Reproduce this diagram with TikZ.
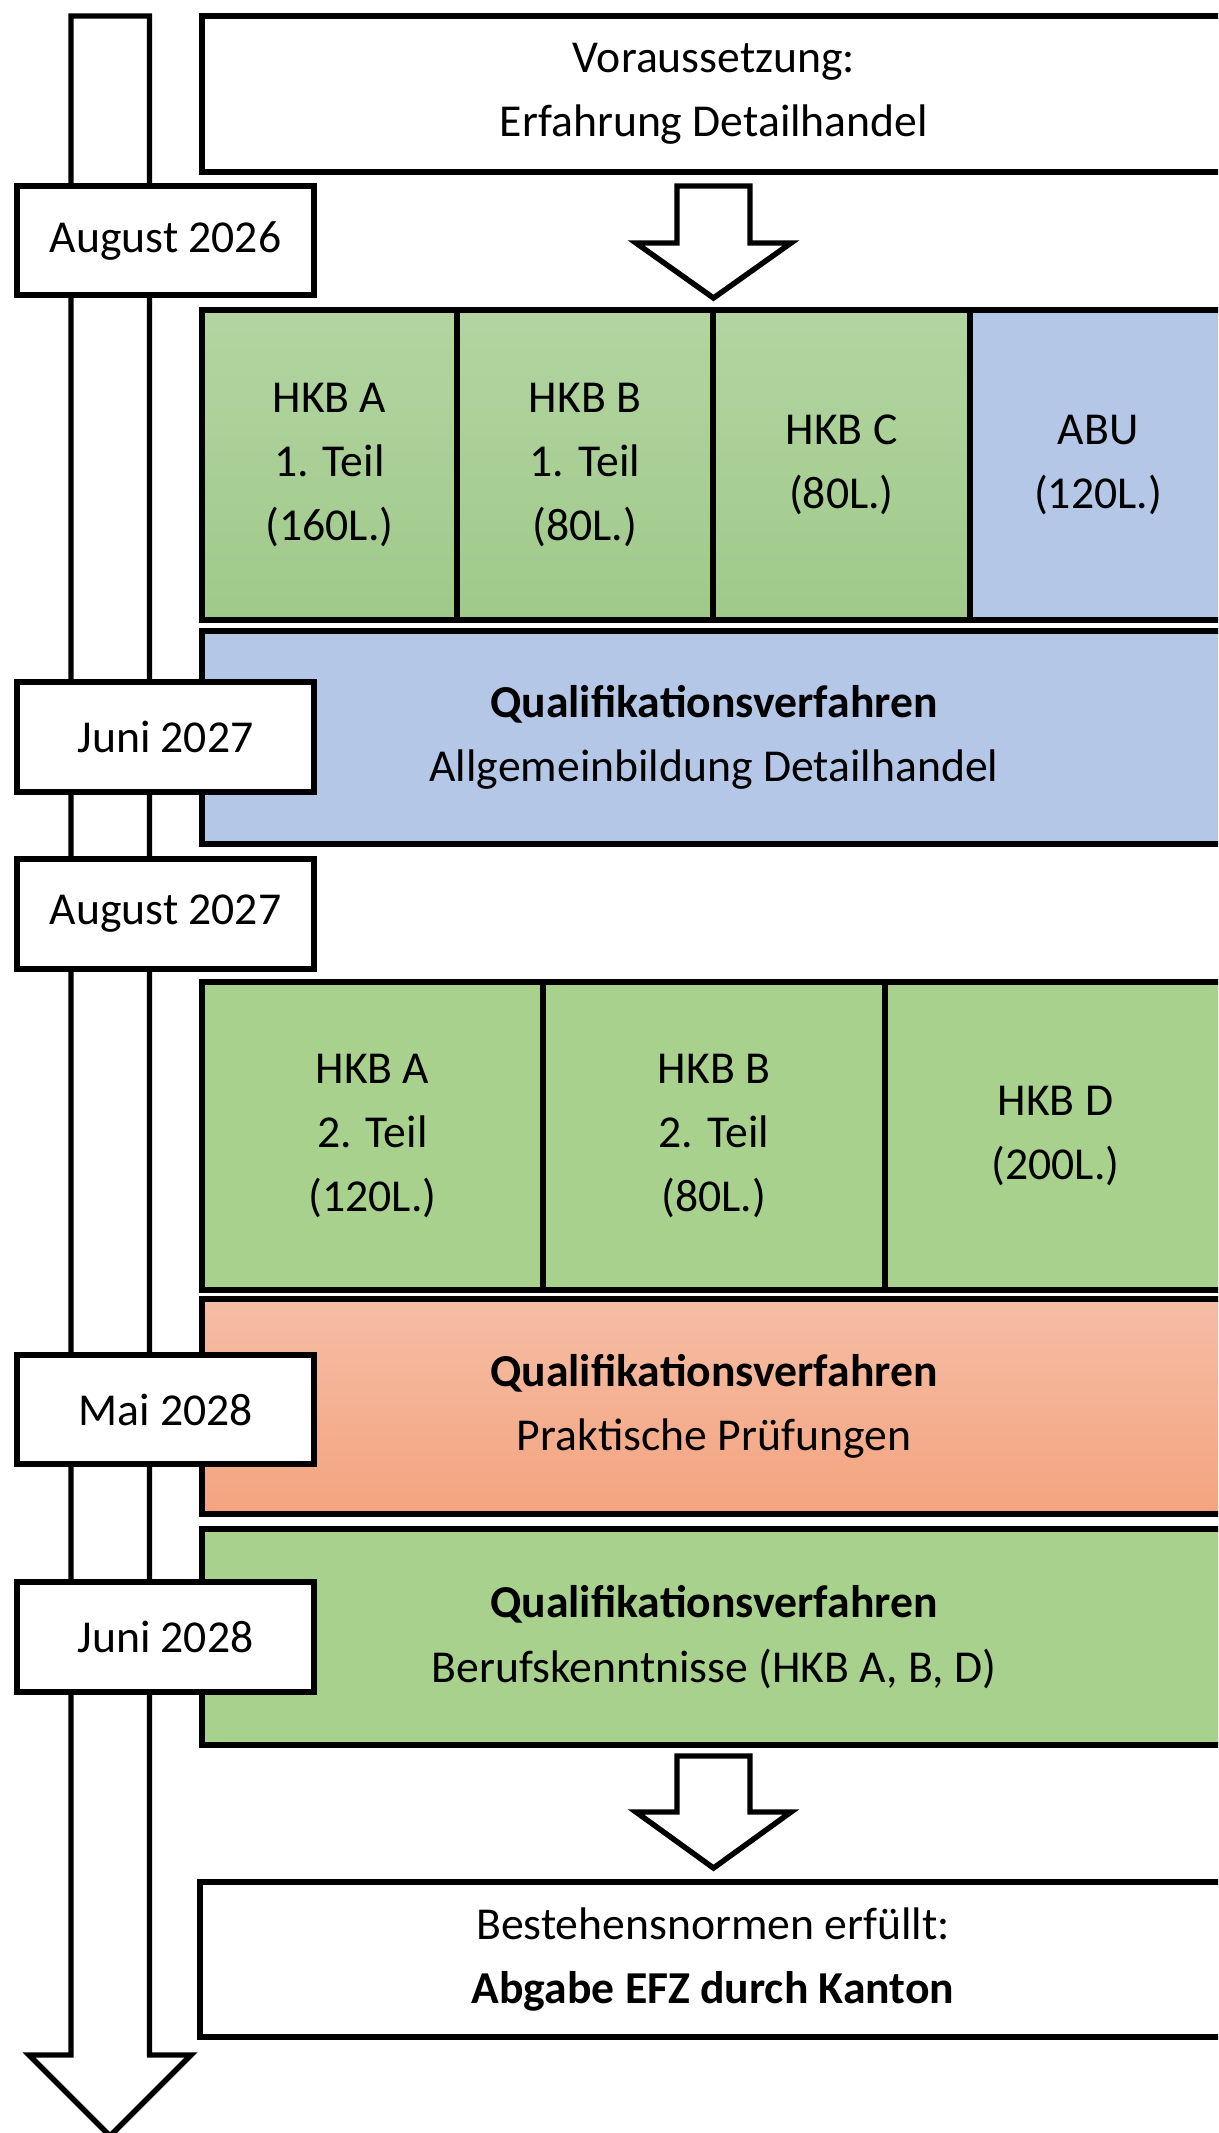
\documentclass[tikz,border=0pt]{standalone}
\usepackage{fontspec}
\setmainfont{Carlito}
\definecolor{gtop}{HTML}{B3D5A1}
\definecolor{gbot}{HTML}{9FC98A}
\definecolor{gflat}{HTML}{A9D18E}
\definecolor{bluebox}{HTML}{B4C7E7}
\definecolor{saltop}{HTML}{F5BDA5}
\definecolor{salbot}{HTML}{F4A47F}
\newcommand\cellbox[7]{%
  \node[cell,#6,minimum width={(#4-#2)*0.02cm},minimum height={(#5-#3)*0.02cm}]
    (#1) at ({(#2+#4)/2},{(#3+#5)/2}) {#7};}
\begin{document}
\begin{tikzpicture}[x=0.02cm,y=-0.02cm,
  ln/.style={line width=3.1pt, draw=black, line join=miter},
  txt/.style={align=center,font=\fontsize{26}{36.7}\selectfont},
  cell/.style={ln, inner sep=0pt, txt},
  green1/.style={top color=gtop, bottom color=gbot},
  green2/.style={fill=gflat},
  blue/.style={fill=bluebox},
  salmon/.style={top color=saltop, bottom color=salbot},
  white/.style={fill=white},
  blockarrow/.style={ln, fill=white},
]
\useasboundingbox (0,0) rectangle (1218,2133);
\clip (0,0) rectangle (1218,2133);

% timeline arrow
\draw[blockarrow] (71,16) -- (149.5,16) -- (149.5,2055) -- (191,2055)
  -- (110,2136) -- (29,2055) -- (71,2055) -- cycle;

% main boxes
\cellbox{pre}{202}{16}{1226}{172}{white}{Voraussetzung:\\Erfahrung Detailhandel}

\cellbox{hkbA1}{202}{310}{457}{620}{green1}{HKB A\\1. Teil\\(160L.)}
\cellbox{hkbB1}{457}{310}{713}{620}{green1}{HKB B\\1. Teil\\(80L.)}
\cellbox{hkbC}{713}{310}{970}{620}{green1}{HKB C\\(80L.)}
\cellbox{abu}{970}{310}{1226}{620}{blue}{ABU\\(120L.)}

\cellbox{qvabu}{202}{631}{1226}{844}{blue}{\textbf{Qualifikationsverfahren}\\Allgemeinbildung Detailhandel}

\cellbox{hkbA2}{202}{982}{543}{1290}{green2}{HKB A\\2. Teil\\(120L.)}
\cellbox{hkbB2}{543}{982}{885}{1290}{green2}{HKB B\\2. Teil\\(80L.)}
\cellbox{hkbD}{885}{982}{1226}{1290}{green2}{HKB D\\(200L.)}

\cellbox{qvprak}{202}{1299}{1226}{1514}{salmon}{\textbf{Qualifikationsverfahren}\\Praktische Prüfungen}
\cellbox{qvberuf}{202}{1529}{1226}{1745}{green2}{\textbf{Qualifikationsverfahren}\\Berufskenntnisse (HKB A, B, D)}

\cellbox{efz}{200}{1882}{1226}{2037}{white}{Bestehensnormen erfüllt:\\\textbf{Abgabe EFZ durch Kanton}}

% block arrows between boxes
\draw[blockarrow] (677,186) -- (750,186) -- (750,243) -- (791,243)
  -- (713.5,298) -- (636,243) -- (677,243) -- cycle;
\draw[blockarrow] (677,1756) -- (750,1756) -- (750,1812) -- (791,1812)
  -- (713.5,1868) -- (636,1812) -- (677,1812) -- cycle;

% date boxes
\cellbox{d1}{17}{186}{314}{295}{white}{August 2026}
\cellbox{d2}{17}{682}{314}{792}{white}{Juni 2027}
\cellbox{d3}{17}{859}{314}{969}{white}{August 2027}
\cellbox{d4}{17}{1355}{314}{1464}{white}{Mai 2028}
\cellbox{d5}{17}{1582}{314}{1692}{white}{Juni 2028}
\end{tikzpicture}
\end{document}
